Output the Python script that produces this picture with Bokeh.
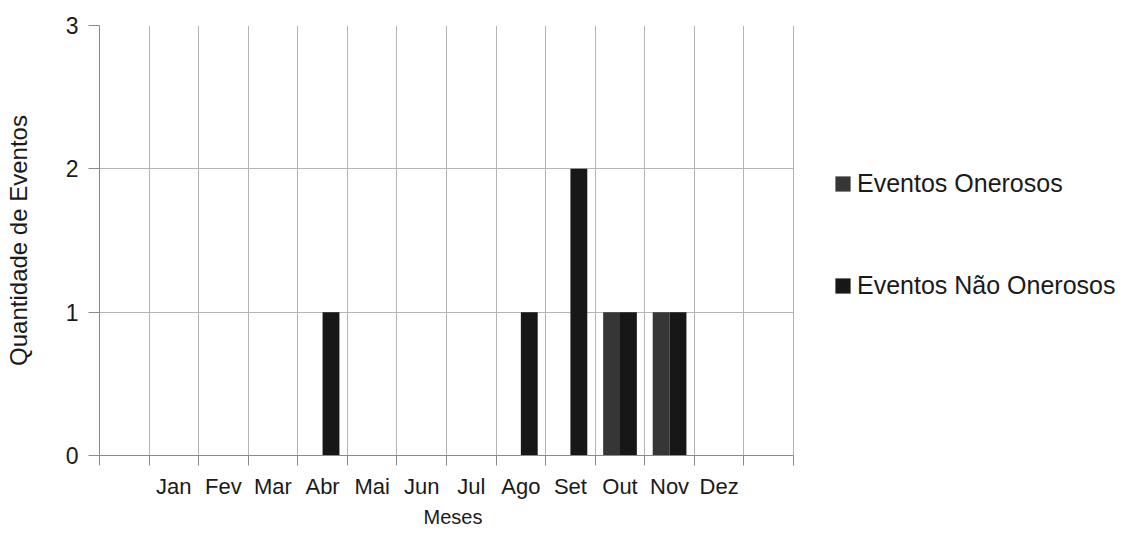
from bokeh.plotting import figure
from bokeh.models import FixedTicker, Legend, LegendItem, ColumnDataSource, Title
from bokeh.embed import file_html
from bokeh.resources import INLINE

months = ["Jan", "Fev", "Mar", "Abr", "Mai", "Jun", "Jul", "Ago", "Set", "Out", "Nov", "Dez"]
onerosos = [0, 0, 0, 0, 0, 0, 0, 0, 0, 1, 1, 0]
nao_onerosos = [0, 0, 0, 1, 0, 0, 0, 1, 2, 1, 1, 0]
y_ticks = [0, 1, 2, 3]
series_names = ["Eventos Onerosos", "Eventos Não Onerosos"]
series_colors = ["#363636", "#171717"]

FONT = "Liberation Sans"
n_slots = len(months) + 2          # one empty slot before Jan and one after Dez
centers = [i + 1.5 for i in range(len(months))]
bounds = list(range(n_slots + 1))
bar_w = 0.34

# layout (pixels)
W, H = 1129, 529
LEFT, RIGHT, TOP, BOTTOM = 99, 8, 25, 74
CHART_W = 694                       # width of the gridded chart area
frame_w = W - LEFT - RIGHT
x_end = n_slots * frame_w / CHART_W  # frame extends right to hold the legend

src = ColumnDataSource(dict(
    month=months,
    x_on=[c - bar_w / 2 for c in centers],
    x_nao=[c + bar_w / 2 for c in centers],
    onerosos=onerosos,
    nao=nao_onerosos,
))

p = figure(width=W, height=H, x_range=(0, x_end), y_range=(0, y_ticks[-1]),
           output_backend="svg", toolbar_location=None,
           min_border_left=LEFT, min_border_right=RIGHT, min_border_top=TOP,
           min_border_bottom=BOTTOM)
p.outline_line_color = None
p.background_fill_color = "white"
p.border_fill_color = "white"

r1 = p.vbar(x="x_on", top="onerosos", width=bar_w, source=src,
            fill_color=series_colors[0], line_color=None)
r2 = p.vbar(x="x_nao", top="nao", width=bar_w, source=src,
            fill_color=series_colors[1], line_color=None)

# X axis: labels at slot centres, tick marks (minor) at slot boundaries
p.xaxis.bounds = (0, n_slots)
p.xaxis.ticker = FixedTicker(ticks=centers, minor_ticks=bounds)
p.xaxis.major_label_overrides = {c: m for c, m in zip(centers, months)}
p.xaxis.major_tick_out = 0
p.xaxis.major_tick_in = 0
p.xaxis.minor_tick_out = 10
p.xaxis.minor_tick_in = 0
p.xaxis.minor_tick_line_color = "#8a8a8a"
p.xaxis.axis_line_color = "#8a8a8a"
p.xaxis.major_label_text_font = FONT
p.xaxis.major_label_text_font_size = "22px"
p.xaxis.major_label_text_color = "#1a1a1a"
p.xaxis.major_label_standoff = 8

# x axis title, centred under the gridded area (not the whole frame)
x_title = Title(text="Meses", align="left", offset=324, vertical_align="bottom",
                standoff=4, text_font=FONT, text_font_size="20px",
                text_font_style="normal", text_color="#1a1a1a")
p.add_layout(x_title, "below")

p.xgrid.ticker = FixedTicker(ticks=bounds)
p.xgrid.grid_line_color = "#b4b4b4"
p.xgrid.grid_line_width = 1

# Y axis
p.yaxis.ticker = FixedTicker(ticks=y_ticks, minor_ticks=[])
p.yaxis.major_tick_out = 11
p.yaxis.major_tick_in = 0
p.yaxis.major_tick_line_color = "#8a8a8a"
p.yaxis.axis_line_color = "#8a8a8a"
p.yaxis.major_label_text_font = FONT
p.yaxis.major_label_text_font_size = "23px"
p.yaxis.major_label_text_color = "#1a1a1a"
p.yaxis.major_label_standoff = 10
p.yaxis.axis_label = "Quantidade de Eventos"
p.yaxis.axis_label_text_font = FONT
p.yaxis.axis_label_text_font_size = "24px"
p.yaxis.axis_label_text_font_style = "normal"
p.yaxis.axis_label_text_color = "#1a1a1a"
p.yaxis.axis_label_standoff = 31

p.ygrid.ticker = FixedTicker(ticks=y_ticks)
p.ygrid.cross_bounds = (0, n_slots)
p.ygrid.grid_line_color = "#b4b4b4"
p.ygrid.grid_line_width = 1

legend = Legend(items=[LegendItem(label=series_names[0], renderers=[r1]),
                       LegendItem(label=series_names[1], renderers=[r2])],
                location=(CHART_W + 40, 155), orientation="vertical")
legend.margin = 0
legend.padding = 0
legend.spacing = 72
legend.glyph_width = 19
legend.glyph_height = 19
legend.label_height = 30
legend.label_standoff = 5
legend.label_text_font = FONT
legend.label_text_font_size = "25px"
legend.label_text_color = "#1a1a1a"
legend.border_line_color = None
legend.background_fill_alpha = 0
p.add_layout(legend, "center")

open("out.html", "w").write(file_html(p, INLINE))
